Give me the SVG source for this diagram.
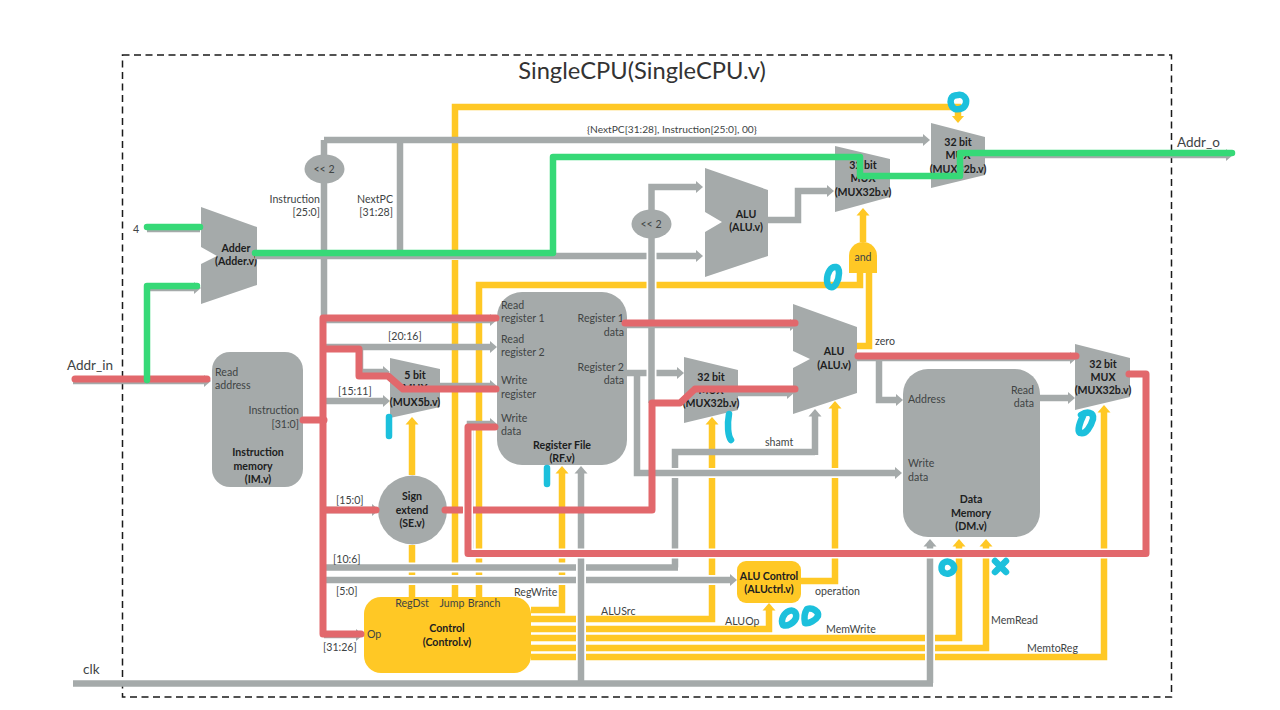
<svg xmlns="http://www.w3.org/2000/svg" width="1280" height="710" viewBox="0 0 1280 710">
<style>
text{font-family:"Lato","Open Sans","Liberation Sans",sans-serif;font-size:10.6px;fill:#404444}
.b{font-weight:700;fill:#1c2020;text-anchor:middle}
.m{text-anchor:middle}.r{text-anchor:end}
.n{fill:#a5aaaa}.c{fill:#ffc825}
path{fill:none;stroke-linejoin:miter}
.g{stroke:#a5aaaa;stroke-width:6.5}
.ga{stroke:#a5aaaa;stroke-width:6.5;marker-end:url(#ag)}
.y{stroke:#ffc825;stroke-width:6.5}
.ya{stroke:#ffc825;stroke-width:6.5;marker-end:url(#ay)}
.w{stroke:#fff;stroke-width:10}
.rd{stroke:#e2686c;stroke-width:7;stroke-linecap:round;stroke-linejoin:round}
.gr{stroke:#36d977;stroke-width:6.5;stroke-linecap:round;stroke-linejoin:round}
.cy{stroke:#1cc0dc;stroke-width:6.5;stroke-linecap:round;stroke-linejoin:round}
</style>
<defs>
<marker id="ag" markerUnits="userSpaceOnUse" markerWidth="9" markerHeight="16" refX="0.5" refY="8" orient="auto"><path d="M0 1.5L7.5 8L0 14.5Z" style="fill:#a5aaaa;stroke:none"/></marker>
<marker id="ay" markerUnits="userSpaceOnUse" markerWidth="9" markerHeight="16" refX="0.5" refY="8" orient="auto"><path d="M0 1.5L7.5 8L0 14.5Z" style="fill:#ffc825;stroke:none"/></marker>
</defs>
<rect width="1280" height="710" fill="#fff"/>
<rect id="frame" x="122.500" y="55" width="1049" height="642" fill="none" stroke="#1a1a1a" stroke-width="1.500" stroke-dasharray="7 4.500"/>
<text x="642" y="79" style="font-size:23.700px;fill:#333" text-anchor="middle">SingleCPU(SingleCPU.v)</text>
<text x="1177" y="147" style="font-size:13.500px">Addr_o</text>
<text x="67" y="370" style="font-size:13.500px">Addr_in</text>
<text x="83" y="674" style="font-size:13.500px">clk</text>

<g id="adder"><polygon class="n" points="201,207 257,227 257,285 201,304 201,264 217,256 201,247"/><text class="b" x="236" y="252">Adder</text><text class="b" x="236" y="265">(Adder.v)</text></g>
<g id="shift-upper"><ellipse class="n" cx="324.500" cy="169" rx="20" ry="14.500"/><text class="m" x="324" y="173">&lt;&lt; 2</text></g>
<g id="shift-lower"><ellipse class="n" cx="651.500" cy="224" rx="20" ry="14.500"/><text class="m" x="651" y="228">&lt;&lt; 2</text></g>
<g id="alu-branch"><polygon class="n" points="705,168 768,190 768,256 705,277 705,232 722,222 705,212"/><text class="b" x="746" y="218">ALU</text><text class="b" x="746" y="231">(ALU.v)</text></g>
<g id="mux-branch"><polygon class="n" points="835,146 890,159 890,197 835,212"/><text class="b" x="863" y="169">32 bit</text><text class="b" x="863" y="182">MUX</text><text class="b" x="863" y="196">(MUX32b.v)</text></g>
<g id="mux-jump"><polygon class="n" points="931,123 985,137 985,175 931,188"/><text class="b" x="958" y="146">32 bit</text><text class="b" x="958" y="159">MUX</text><text class="b" x="958" y="173">(MUX32b.v)</text></g>
<g id="and-gate"><path class="c" style="stroke:none" d="M849,273V256A14,14 0 0 1 877,256V273Z"/><text class="m" x="863" y="261">and</text></g>
<g id="instruction-memory"><rect class="n" x="212" y="352" width="91" height="135" rx="18"/>
<text x="215" y="376">Read</text><text x="215" y="389">address</text><text class="r" x="299" y="414">Instruction</text><text class="r" x="299" y="428">[31:0]</text>
<text class="b" x="258" y="456">Instruction</text><text class="b" x="253" y="470">memory</text><text class="b" x="258" y="483">(IM.v)</text></g>
<g id="mux-regdst"><polygon class="n" points="390,358 440,369 440,407 390,418"/><text class="b" x="415" y="379">5 bit</text><text class="b" x="415" y="392">MUX</text><text class="b" x="415" y="406">(MUX5b.v)</text></g>
<g id="sign-extend"><circle class="n" cx="412.500" cy="510" r="34.500"/><text class="b" x="412" y="500">Sign</text><text class="b" x="412" y="514">extend</text><text class="b" x="412" y="527">(SE.v)</text></g>
<g id="register-file"><rect class="n" x="497" y="292" width="130" height="173" rx="25"/>
<text x="501" y="309">Read</text><text x="501" y="322">register 1</text><text x="501" y="343">Read</text><text x="501" y="356">register 2</text><text x="501" y="384">Write</text><text x="501" y="398">register</text><text x="501" y="422">Write</text><text x="501" y="435">data</text>
<text class="r" x="624" y="322">Register 1</text><text class="r" x="624" y="336">data</text><text class="r" x="624" y="371">Register 2</text><text class="r" x="624" y="384">data</text>
<text class="b" x="562" y="449">Register File</text><text class="b" x="562" y="462">(RF.v)</text></g>
<g id="mux-alusrc"><polygon class="n" points="684,357 738,370 738,410 684,423"/><text class="b" x="711" y="381">32 bit</text><text class="b" x="711" y="394">MUX</text><text class="b" x="711" y="407">(MUX32b.v)</text></g>
<g id="alu-main"><polygon class="n" points="793,304 857,327 857,393 793,414 793,368 810,359 793,351"/><text class="b" x="834" y="355">ALU</text><text class="b" x="834" y="369">(ALU.v)</text></g>
<g id="data-memory"><rect class="n" x="903" y="369" width="137" height="168" rx="25"/>
<text x="908" y="403">Address</text><text x="908" y="467">Write</text><text x="908" y="481">data</text><text class="r" x="1034" y="394">Read</text><text class="r" x="1034" y="407">data</text>
<text class="b" x="971" y="503">Data</text><text class="b" x="971" y="517">Memory</text><text class="b" x="971" y="530">(DM.v)</text></g>
<g id="mux-memtoreg"><polygon class="n" points="1075,344 1130,358 1130,397 1075,410"/><text class="b" x="1103" y="368">32 bit</text><text class="b" x="1103" y="381">MUX</text><text class="b" x="1103" y="394">(MUX32b.v)</text></g>
<g id="alu-control"><rect class="c" x="737" y="561" width="64" height="42" rx="9"/><text class="b" x="769" y="580">ALU Control</text><text class="b" x="769" y="593">(ALUctrl.v)</text></g>
<g id="control"><rect class="c" x="364" y="597" width="167" height="76" rx="17"/><text x="367" y="638">Op</text><text class="m" x="412" y="607">RegDst</text><text class="m" x="452" y="607">Jump</text><text class="m" x="484" y="607">Branch</text><text class="b" x="447" y="632">Control</text><text class="b" x="447" y="646">(Control.v)</text></g>

<g id="connectors">
<path class="y" d="M412,545V597"/><path class="ya" d="M412,475V424"/>
<path class="ya" d="M455,597V107H958V116"/>
<path class="y" d="M479,597V285H860V273"/>
<path class="y" d="M869,273V346H857"/>
<path class="ya" d="M863,242V215"/>
<path class="ya" d="M531,610H562V473"/>
<path class="ya" d="M531,619H712V424"/>
<path class="ya" d="M531,629H769V610"/>
<path class="ya" d="M531,638H959V546"/>
<path class="ya" d="M531,648H986V546"/>
<path class="ya" d="M531,657H1104V412"/>
<path class="ya" d="M801,581H835V408"/>

<path class="w" d="M258,255H700"/>
<path class="g" d="M324,140V155M324,183V318"/>
<path class="ga" d="M324,140H923"/>
<path class="g" d="M400,140V252"/>
<path class="ga" d="M255,256H696"/>
<path class="ga" d="M651.500,210V187H696"/>
<path class="w" d="M651.500,240V400"/>
<path class="g" d="M651.500,238V403"/>
<path class="ga" d="M768,220H798V191H827"/>
<path class="ga" d="M985,155H1226"/>
<path class="ga" d="M73,381H204"/>
<path class="g" d="M147,229H200"/>
<path class="ga" d="M147,288H194"/>
<path class="ga" d="M324,347H490"/>
<path class="ga" d="M360,347V372H383"/>
<path class="ga" d="M324,401H383"/>
<path class="ga" d="M440,386H490"/>
<path class="ga" d="M324,320H490"/>
<path class="ga" d="M470,553V424H490"/>
<path class="ga" d="M324,635H356"/>
<path class="ga" d="M324,510H372"/>
<path class="w" d="M326,567.500H682M326,580H730"/>
<path class="g" d="M675,567.500V452H815"/>
<path class="ga" d="M815,455V416"/>
<path class="w" d="M637,473H895"/>
<path class="ga" d="M627,373H646.500M656.500,373H677"/>
<path class="ga" d="M637,373V473H895"/>
<path class="g" d="M326,567.500H678"/>
<path class="ga" d="M326,580H730"/>
<path class="ga" d="M627,325H790"/>
<path class="ga" d="M738,393H787"/>
<path class="ga" d="M857,358H1070"/>
<path class="ga" d="M879,358V400H896"/>
<path class="ga" d="M1040,398H1068"/>
<path class="w" d="M581,500V680M930,600V680"/>
<path class="g" d="M73,683.500H933"/>
<path class="ga" d="M581,683V473"/>
<path class="ga" d="M930,683V546"/>

<path class="rd" d="M75,379H207"/>
<path class="rd" d="M303,420H324"/>
<path class="rd" d="M496,318H323V634H361"/>
<path class="rd" d="M324,349H359V376H388L403,389H496"/>
<path class="rd" d="M324,510H376"/>
<path class="rd" d="M445,510H462"/>
<path class="rd" d="M473,510H652V403H680L695,389H795"/>
<path class="rd" d="M625,323H795"/>
<path class="w" d="M468,430V550M470,553.500H1150"/>
<path class="rd" d="M858,356H1076"/>
<path class="rd" d="M1129,374H1146V553.500H468V427H495"/>
<path class="gr" d="M147,380V286H197"/>
<path class="gr" d="M147,227H200"/>
<path class="gr" d="M255,253H553V157H860V176H960V153H1232"/>
</g>

<g id="labels">
<text x="587" y="133" style="font-size:10.200px">{NextPC[31:28], Instruction[25:0], 00}</text>
<text class="r" x="320" y="203">Instruction</text><text class="r" x="320" y="216">[25:0]</text>
<text class="r" x="393" y="203">NextPC</text><text class="r" x="393" y="216">[31:28]</text>
<text x="133" y="233">4</text>
<text x="388" y="340">[20:16]</text><text x="338" y="395">[15:11]</text><text x="336" y="504">[15:0]</text><text x="333" y="563">[10:6]</text><text x="336" y="595">[5:0]</text><text x="323" y="651">[31:26]</text>
<text x="514" y="596">RegWrite</text><text x="601" y="615">ALUSrc</text><text x="725" y="625">ALUOp</text><text x="826" y="633">MemWrite</text><text x="991" y="624">MemRead</text><text x="1027" y="652">MemtoReg</text><text x="815" y="595">operation</text><text x="765" y="446">shamt</text><text x="875" y="345">zero</text>
</g>

<g id="annotations">
<path class="cy" d="M958,95C963,94 967,98 966,103C965,108 960,110 955,109C951,107 950,102 951,99C952,96 955,95 958,95Z"/>
<path class="cy" d="M389,417V436"/>
<path class="cy" d="M547,468V484"/>
<path class="cy" d="M729,414C727,425 728,436 731,440"/>
<path class="cy" d="M836,267C840,268 840,277 836,284C832,290 827,287 827,280C827,273 831,266 836,267Z"/>
<path class="cy" d="M1081,415C1087,411 1094,412 1093,419C1091,426 1086,435 1080,433C1077,431 1080,422 1083,416"/>
<path class="cy" d="M945,562C950,560 955,565 954,569C952,574 946,575 943,572C940,568 942,563 945,562Z"/>
<path class="cy" d="M995,561L1006,572M1006,561L995,572"/>
<path class="cy" d="M789,611C794,609 797,613 796,618C794,623 787,627 783,625C780,620 784,613 789,611Z"/>
<path class="cy" d="M807,609C813,607 819,612 818,616C816,620 809,624 805,623C804,618 805,612 807,609Z"/>
</g>
</svg>
